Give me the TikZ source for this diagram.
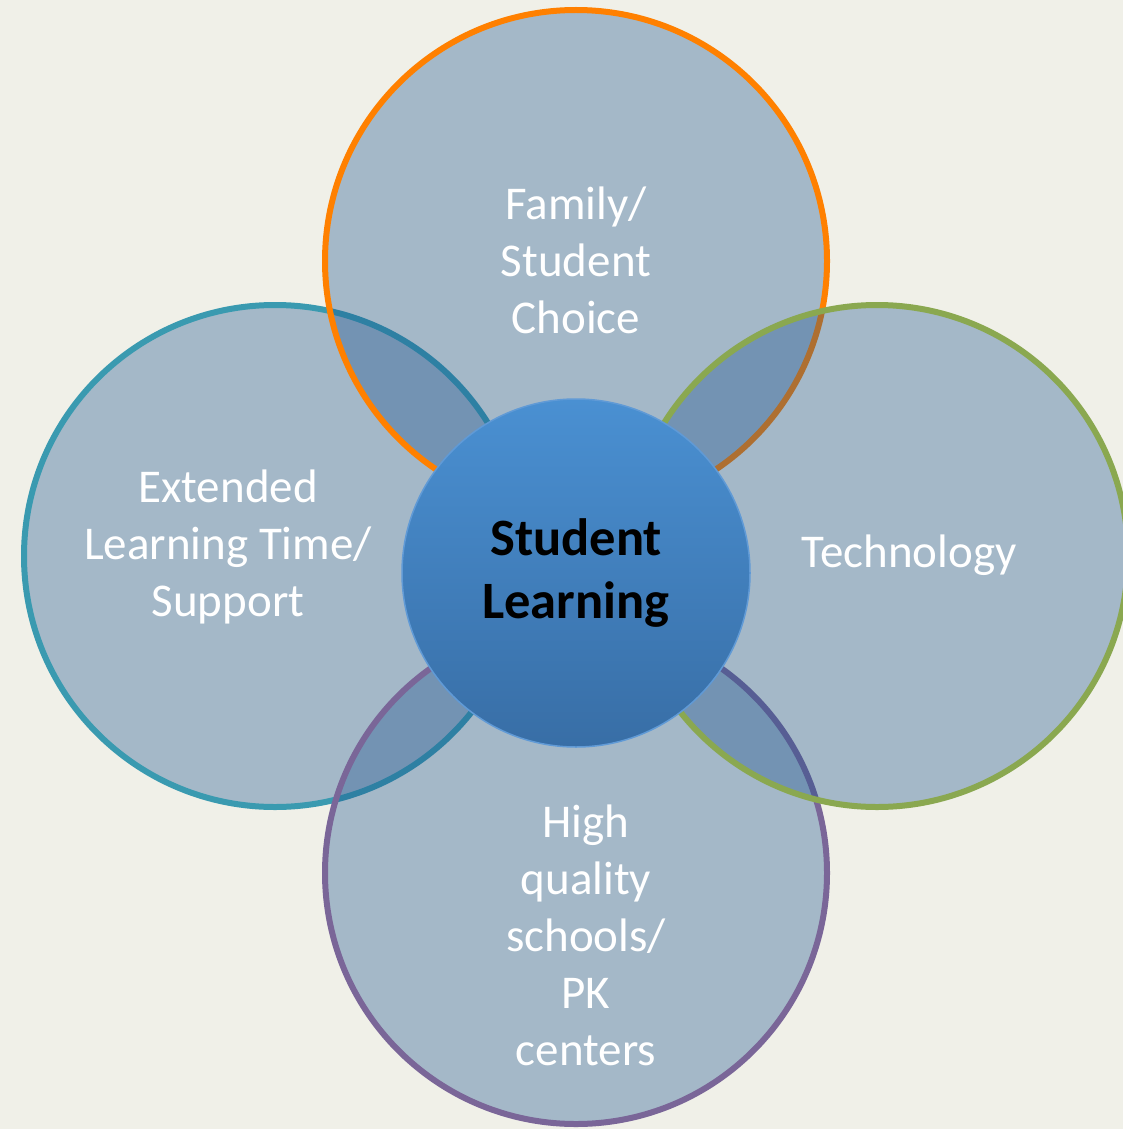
\documentclass[tikz,border=0pt]{standalone}
\usepackage{fontspec}
\setmainfont{Carlito}
\definecolor{paper}{RGB}{240,240,232}
\definecolor{petalfill}{RGB}{24,80,141}
\definecolor{choiceorange}{RGB}{255,128,0}
\definecolor{timeteal}{RGB}{58,154,176}
\definecolor{techgreen}{RGB}{138,168,80}
\definecolor{schoolpurple}{RGB}{122,102,152}
\definecolor{hubtop}{RGB}{74,144,210}
\definecolor{hubbottom}{RGB}{56,110,166}
\definecolor{hubrim}{RGB}{96,154,214}
\begin{document}
\begin{tikzpicture}[x=1pt,y=-1pt,
	petal/.style={circle,minimum size=502pt,inner sep=0pt,line width=6pt,fill=petalfill,fill opacity=0.35,draw opacity=1},
	petaltext/.style={align=center,text=white,font=\fontsize{47}{57}\selectfont},
	hub/.style={circle,minimum size=348pt,inner sep=0pt,top color=hubtop,bottom color=hubbottom,draw=hubrim,line width=1.5pt,align=center,font=\bfseries\fontsize{52.5}{63}\selectfont}]
	\useasboundingbox (0,0) rectangle (1123,1129);
	\fill[paper] (0,0) rectangle (1123,1129);
	% the four circles
	\node[petal,draw=timeteal] (time) at (275,556) {};
	\node[petal,draw=schoolpurple] (school) at (576,873) {};
	\node[petal,draw=choiceorange] (choice) at (576,261) {};
	\node[petal,draw=techgreen] (tech) at (877,556) {};
	% labels
	\node[petaltext] (choicetext) at (576,260) {Family/\\Student\\Choice};
	\node[petaltext] (timetext) at (228,547) {Extended\\Learning Time/\\Support};
	\node[petaltext] (techtext) at (909,555) {Technology};
	\node[petaltext] (schooltext) at (586,935) {High\\quality\\schools/\\PK\\centers};
	% centre
	\node[hub] (learning) at (576,573) {Student\\Learning};
\end{tikzpicture}
\end{document}
